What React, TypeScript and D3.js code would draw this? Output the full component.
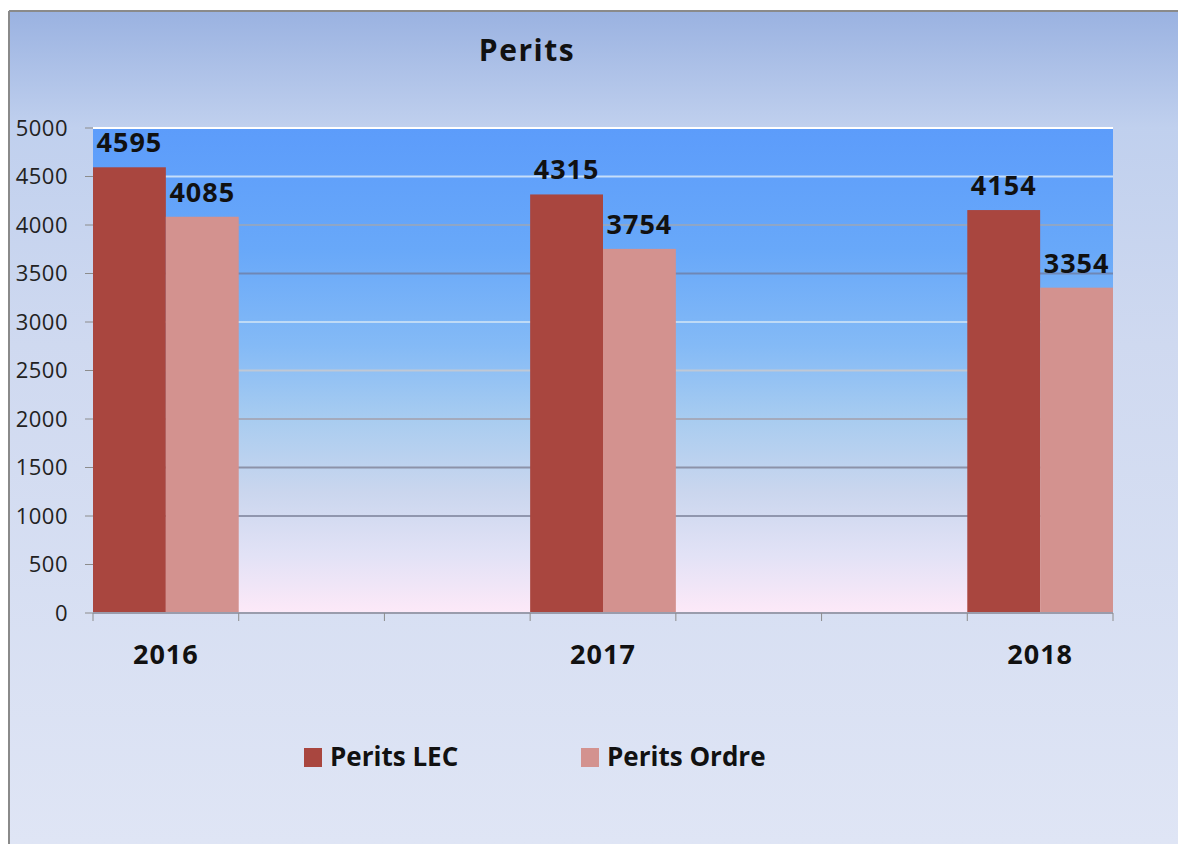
import React from "react";
import * as d3 from "d3";

const title = "Perits";
const categories = ["2016", "2017", "2018"];
const seriesNames = ["Perits LEC", "Perits Ordre"];
const peritsLEC = [4595, 4315, 4154];
const peritsOrdre = [4085, 3754, 3354];
const yTicks = [0, 500, 1000, 1500, 2000, 2500, 3000, 3500, 4000, 4500, 5000];

const W = 1178;
const H = 844;
const colors = ["#a9463f", "#d3928f"];
const gridColors: Record<number, string> = {
  5000: "#ffffff",
  4500: "#c6def9",
  4000: "#8fa6c6",
  3500: "#6f87b5",
  3000: "#bedaf6",
  2500: "#c0c8d4",
  2000: "#a4aabc",
  1500: "#8c92a8",
  1000: "#9096ae",
  500: "none",
  0: "none",
};
const FONT = "'Open Sans', 'Noto Sans', sans-serif";

export default function App() {
  const plot = { left: 93, right: 1113, top: 128, bottom: 613 };
  const y = d3.scaleLinear().domain([0, 5000]).range([plot.bottom, plot.top]);
  const x = d3
    .scaleBand<string>()
    .domain(categories)
    .range([plot.left, plot.right])
    .paddingInner(2 / 3)
    .paddingOuter(0);
  const bw = x.bandwidth();
  const sub = d3.scaleBand<string>().domain(seriesNames).range([0, bw]).padding(0);
  const series = [peritsLEC, peritsOrdre];
  const nSlots = Math.round((plot.right - plot.left) / bw);
  const slotTicks = d3.range(nSlots + 1).map((i) => plot.left + i * bw);

  return (
    <svg
      width={W}
      height={H}
      style={{ position: "absolute", left: 0, top: 0, display: "block" }}
      xmlns="http://www.w3.org/2000/svg"
    >
      <defs>
        <linearGradient id="bgGrad" x1="0" y1="0" x2="0" y2="1">
          <stop offset="0%" stopColor="#9ab2e1" />
          <stop offset="14%" stopColor="#c0d0ee" />
          <stop offset="40%" stopColor="#cfd9f0" />
          <stop offset="100%" stopColor="#dfe5f5" />
        </linearGradient>
        <linearGradient id="plotGrad" x1="0" y1="0" x2="0" y2="1">
          <stop offset="0%" stopColor="#5c9cfb" />
          <stop offset="25%" stopColor="#68a8f9" />
          <stop offset="45%" stopColor="#84baf6" />
          <stop offset="60%" stopColor="#a8ccf0" />
          <stop offset="75%" stopColor="#cad6ee" />
          <stop offset="88%" stopColor="#e2e2f6" />
          <stop offset="100%" stopColor="#fde9f8" />
        </linearGradient>
      </defs>
      <rect x={0} y={0} width={W} height={H} fill="#ffffff" />
      <rect x={9} y={11} width={W - 9} height={H - 11} fill="url(#bgGrad)" />
      <line x1={9} x2={W} y1={11} y2={11} stroke="#8a8a8a" strokeWidth={2} />
      <line x1={9} x2={9} y1={11} y2={H} stroke="#8a8a8a" strokeWidth={2} />

      <text
        x={527}
        y={61}
        textAnchor="middle"
        fontFamily={FONT}
        fontWeight="bold"
        fontSize={30}
        letterSpacing={1.5}
        fill="#111"
      >
        {title}
      </text>

      <rect
        x={plot.left}
        y={plot.top}
        width={plot.right - plot.left}
        height={plot.bottom - plot.top}
        fill="url(#plotGrad)"
      />

      {yTicks.map((t) => (
        <g key={t}>
          {gridColors[t] !== "none" && (
            <line
              x1={plot.left}
              x2={plot.right}
              y1={y(t)}
              y2={y(t)}
              stroke={gridColors[t]}
              strokeWidth={2}
            />
          )}
          <line x1={85} x2={plot.left} y1={y(t)} y2={y(t)} stroke="#8c8c8c" strokeWidth={1} />
          <text
            x={68}
            y={y(t)}
            dy="0.36em"
            textAnchor="end"
            fontFamily={FONT}
            fontSize={22}
            letterSpacing={0.5}
            fill="#222"
          >
            {t}
          </text>
        </g>
      ))}

      {categories.map((c, ci) =>
        series.map((vals, si) => {
          const bx = (x(c) ?? 0) + (sub(seriesNames[si]) ?? 0);
          const v = vals[ci];
          return (
            <g key={c + si}>
              <rect
                x={bx}
                y={y(v)}
                width={sub.bandwidth()}
                height={y(0) - y(v)}
                fill={colors[si]}
              />
              <text
                x={bx + sub.bandwidth() / 2}
                y={y(v) - 15}
                textAnchor="middle"
                fontFamily={FONT}
                fontWeight="bold"
                fontSize={27}
                letterSpacing={1}
                fill="#111"
              >
                {v}
              </text>
            </g>
          );
        })
      )}

      <line
        x1={plot.left}
        x2={plot.right}
        y1={y(0)}
        y2={y(0)}
        stroke="#9a9cac"
        strokeWidth={2}
      />
      {slotTicks.map((tx, i) => (
        <line key={i} x1={tx} x2={tx} y1={y(0)} y2={y(0) + 8} stroke="#8c8c8c" strokeWidth={1} />
      ))}

      {categories.map((c) => (
        <text
          key={c}
          x={(x(c) ?? 0) + bw / 2}
          y={664}
          textAnchor="middle"
          fontFamily={FONT}
          fontWeight="bold"
          fontSize={27}
          letterSpacing={1}
          fill="#111"
        >
          {c}
        </text>
      ))}

      {seriesNames.map((s, i) => {
        const lx = i === 0 ? 304 : 581;
        return (
          <g key={s}>
            <rect x={lx} y={748} width={18} height={19} fill={colors[i]} />
            <text
              x={lx + 26}
              y={766}
              fontFamily={FONT}
              fontWeight="bold"
              fontSize={26}
              fill="#111"
            >
              {s}
            </text>
          </g>
        );
      })}
    </svg>
  );
}
